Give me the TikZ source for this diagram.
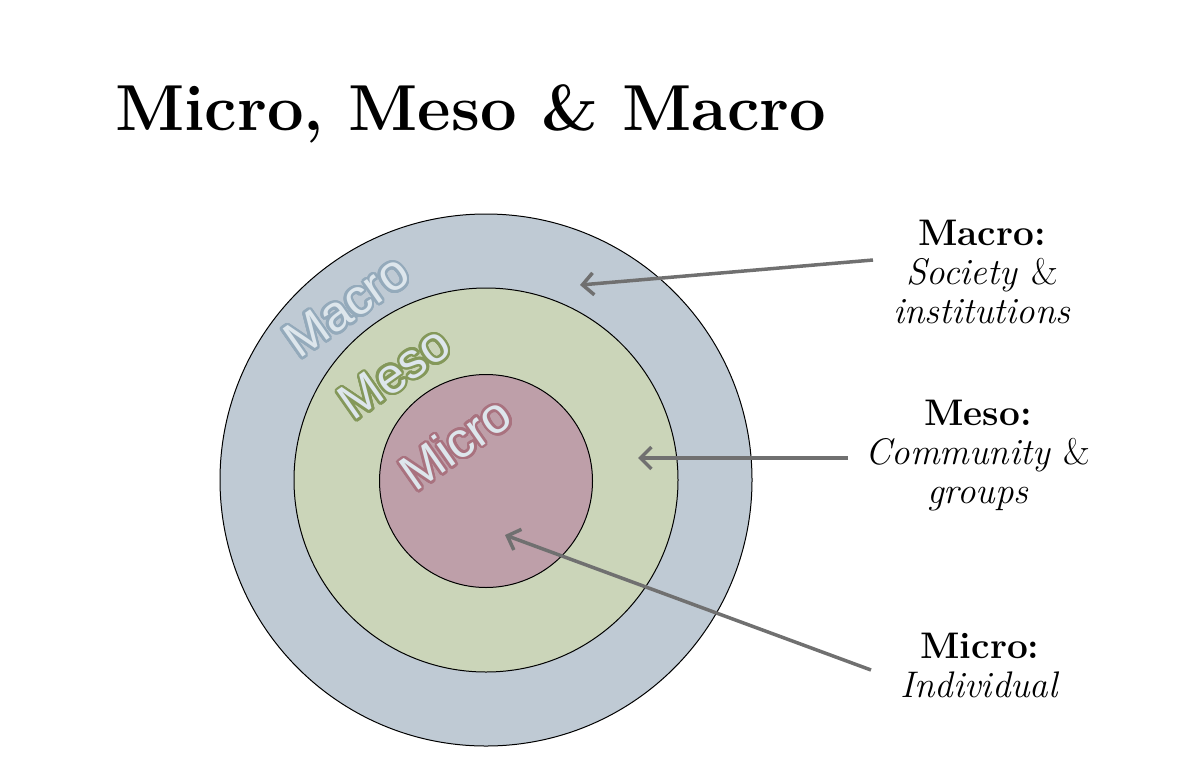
\documentclass[tikz,border=0pt]{standalone}
\usepackage{fontspec}
\usepackage{contour}
\newfontfamily\arialf{Liberation Sans}
\usetikzlibrary{arrows.meta}
\definecolor{outerc}{HTML}{BFCAD4}
\definecolor{midc}{HTML}{CBD5B9}
\definecolor{innc}{HTML}{BE9FA9}
\definecolor{lblfill}{HTML}{DDE6EC}
\definecolor{macrol}{HTML}{94AABB}
\definecolor{mesol}{HTML}{84985A}
\definecolor{microl}{HTML}{A9727F}
\definecolor{arrc}{HTML}{707070}
\contourlength{2.5pt}
\contournumber{24}
\tikzset{
  ring/.style={circle,draw=black,line width=1pt,inner sep=0pt},
  ringlbl/.style={font=\arialf\fontsize{50}{52}\selectfont,rotate=35,text=lblfill,inner sep=0pt},
  side/.style={align=center,font=\fontsize{37}{39}\selectfont},
  pointer/.style={draw=arrc,line width=3.5pt,-{Straight Barb[length=11pt,width=22pt,line width=3.5pt]}}
}
\begin{document}
\begin{tikzpicture}[x=1pt,y=-1pt]
\useasboundingbox (0,0) rectangle (1201,766);
\node[anchor=base west,inner sep=0pt,font=\fontsize{65}{70}\selectfont\bfseries] (title) at (115,130) {Micro, Meso \& Macro};
\node[ring,fill=outerc,minimum size=532pt] (outer) at (486,480) {};
\node[ring,fill=midc,minimum size=384pt] (mid) at (486,480) {};
\node[ring,fill=innc,minimum size=213pt] (inner) at (486,481) {};
\node[ringlbl] (lmacro) at (347,307) {\contour{macrol}{Macro}};
\node[ringlbl] (lmeso) at (395,374) {\contour{mesol}{Meso}};
\node[ringlbl] (lmicro) at (456,444) {\contour{microl}{Micro}};
\node[side] (tmacro) at (982,272) {\textbf{Macro:}\\\textit{Society \textup{\&}}\\\textit{institutions}};
\node[side] (tmeso) at (978,456) {\textbf{Meso:}\\\textit{Community \textup{\&}}\\\textit{groups}};
\node[side] (tmicro) at (980,665) {\textbf{Micro:}\\\textit{Individual}};
\coordinate (pmacro) at (580,285);
\coordinate (pmeso) at (638,458);
\coordinate (pmicro) at (505,535);
\coordinate (smacro) at (873,260);
\coordinate (smeso) at (848,458);
\coordinate (smicro) at (871,670);
\draw[pointer] (smacro) -- (pmacro);
\draw[pointer] (smeso) -- (pmeso);
\draw[pointer] (smicro) -- (pmicro);
\end{tikzpicture}
\end{document}
